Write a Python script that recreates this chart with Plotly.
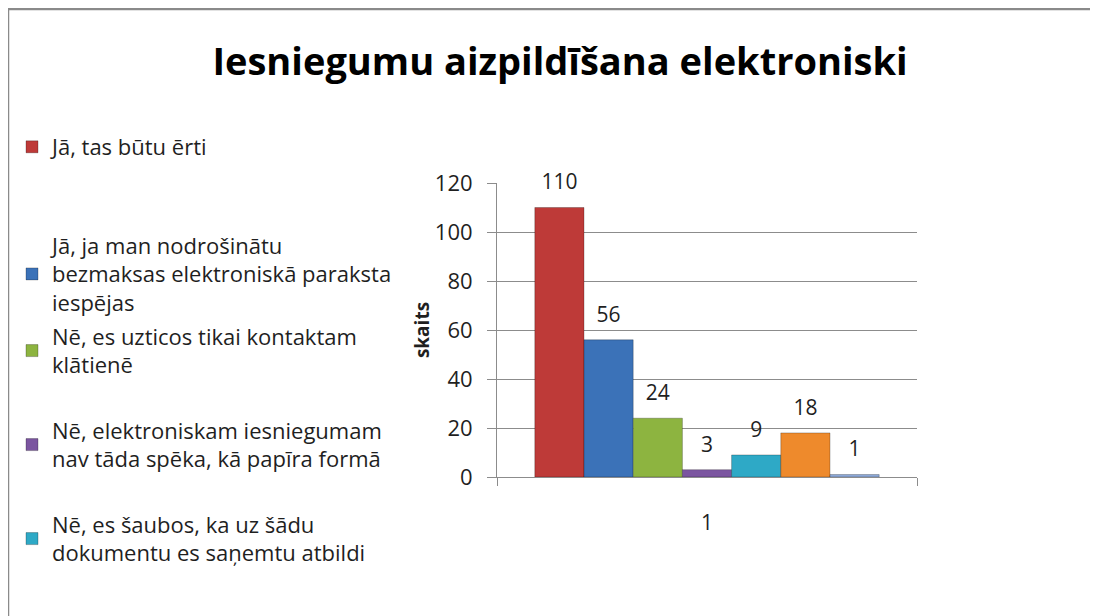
import plotly.graph_objects as go

# --- data ---
category = ["1"]
series_names = [
    "Jā, tas būtu ērti",
    "Jā, ja man nodrošinātu<br>bezmaksas elektroniskā paraksta<br>iespējas",
    "Nē, es uzticos tikai kontaktam<br>klātienē",
    "Nē, elektroniskam iesniegumam<br>nav tāda spēka, kā papīra formā",
    "Nē, es šaubos, ka uz šādu<br>dokumentu es saņemtu atbildi",
    "Sērija 6",
    "Sērija 7",
]
series_values = [110, 56, 24, 3, 9, 18, 1]
series_colors = ["#BE3A38", "#3B72B8", "#8DB440", "#7B55A0", "#2EA9C6", "#EE8A2C", "#8EAADA"]
y_ticks = [0, 20, 40, 60, 80, 100, 120]

FONT = "'Open Sans', Carlito, Lato, sans-serif"
TXT = "#1f1f1f"
W, H = 1098, 616
# plot area in pixels (figure coordinates)
PL, PR, PT, PB = 489, 909, 175, 469

# legend item vertical centres (px from top), only first five are visible
legend_centres = [139, 266, 343, 437, 531]

fig = go.Figure()

for i, (name, val, col) in enumerate(zip(series_names, series_values, series_colors)):
    lg = "legend" if i == 0 else f"legend{i + 1}"
    fig.add_trace(go.Bar(
        x=category, y=[val], name=name,
        marker=dict(color=col, line=dict(color="rgba(0,0,0,0.25)", width=1)),
        legend=lg if i < 5 else None,
        showlegend=i < 5,
        offsetgroup=str(i),
    ))

# value labels sitting a little above each bar
for i, val in enumerate(series_values):
    fig.add_trace(go.Scatter(
        x=category, y=[val], mode="markers+text",
        text=[str(val)], textposition="top center",
        textfont=dict(family=FONT, size=21, color=TXT),
        marker=dict(size=19, opacity=0),
        offsetgroup=str(i),
        showlegend=False, hoverinfo="skip", cliponaxis=False,
    ))

layout_legends = {}
for i, yc in enumerate(legend_centres):
    key = "legend" if i == 0 else f"legend{i + 1}"
    layout_legends[key] = dict(
        xref="container", yref="container",
        x=4 / W, y=1 - yc / H, xanchor="left", yanchor="middle",
        bgcolor="rgba(0,0,0,0)", borderwidth=0,
        font=dict(family=FONT, size=22, color=TXT),
        itemclick=False, itemdoubleclick=False,
    )

fig.update_layout(
    width=W, height=H,
    paper_bgcolor="white", plot_bgcolor="white",
    margin=dict(l=PL, r=W - PR, t=PT, b=H - PB),
    barmode="group", bargap=0.18, bargroupgap=0,
    scattermode="group", scattergap=0.18,
    title=dict(
        text="<b>Iesniegumu aizpildīšana elektroniski</b>",
        xref="container", yref="container",
        x=552 / W, y=1 - 54 / H, xanchor="center", yanchor="middle",
        font=dict(family=FONT, size=38, color="#000000"),
    ),
    xaxis=dict(
        type="category", showgrid=False,
        showline=True, linecolor="#8c8c8c", linewidth=1,
        ticks="outside", tickson="boundaries", ticklen=8, tickcolor="#8c8c8c",
        tickfont=dict(family=FONT, size=21, color=TXT),
        ticklabelstandoff=27,
    ),
    yaxis=dict(
        range=[0, 120], tickvals=y_ticks,
        showgrid=True, gridcolor="#8c8c8c", gridwidth=1,
        showline=True, linecolor="#8c8c8c", linewidth=1,
        ticks="outside", ticklen=9, tickcolor="#8c8c8c",
        tickfont=dict(family=FONT, size=22, color=TXT),
        ticklabelstandoff=10,
        zeroline=False,
        title=dict(text="<b>skaits</b>", standoff=0,
                   font=dict(family=FONT, size=19, color=TXT)),
    ),
    shapes=[dict(
        type="rect", xref="paper", yref="paper",
        x0=(0 - PL) / (PR - PL), x1=(W + 20 - PL) / (PR - PL),
        y0=(PB - H - 20) / (PB - PT), y1=(PB - 1) / (PB - PT),
        line=dict(color="#8a8a8a", width=2.5), layer="below",
    )],
    **layout_legends,
)

fig.write_html("out.html")
